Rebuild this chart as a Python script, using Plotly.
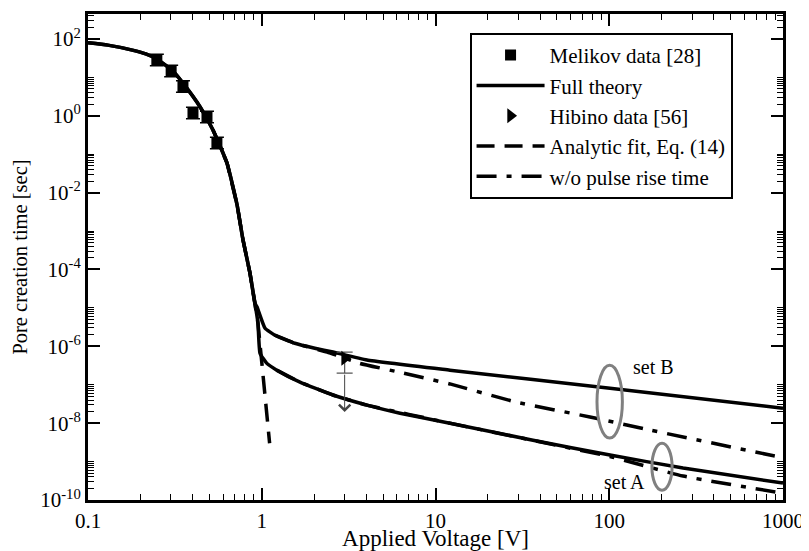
import math
import plotly.graph_objects as go

FONT = "Liberation Serif"

# ---- data (applied voltage [V], pore creation time [s]) ----
v_common = [0.10, 0.13, 0.18, 0.215, 0.249, 0.304, 0.352, 0.442, 0.524, 0.631, 0.721, 0.78, 0.855, 0.914]
t_common = [79.4, 69.2, 51.3, 40.7, 30.2, 15.5, 7.08, 1.70, 0.427, 0.0589, 4.79e-3, 5.89e-4, 8.13e-5, 1.33e-5]

v_setB = [0.94, 1.045, 1.19, 1.55, 2.02, 2.57, 4.03, 12.1, 101, 1000]
t_setB = [1.05e-5, 2.95e-6, 1.95e-6, 1.20e-6, 8.9e-7, 7.1e-7, 4.4e-7, 2.4e-7, 8.1e-8, 2.45e-8]

v_setA = [0.951, 0.977, 1.07, 1.22, 1.66, 2.57, 4.03, 6.25, 12.1, 36.4, 101, 266, 1000]
t_setA = [4.0e-6, 6.6e-7, 3.6e-7, 2.4e-7, 1.17e-7, 5.4e-8, 2.95e-8, 1.82e-8, 1.0e-8, 3.6e-9, 1.48e-9, 6.8e-10, 2.75e-10]

v_fit = [0.524, 0.631, 0.721, 0.78, 0.855, 0.914, 0.951, 1.0, 1.11]
t_fit = [0.427, 0.0589, 4.79e-3, 5.89e-4, 8.13e-5, 1.33e-5, 4.0e-6, 3.9e-7, 3.0e-9]

v_norise_B = [1.19, 1.55, 2.38, 3.67, 6.25, 12.1, 29.4, 77.4, 172, 841, 1000]
t_norise_B = [1.95e-6, 1.20e-6, 7.1e-7, 3.6e-7, 2.1e-7, 1.05e-7, 3.5e-8, 1.45e-8, 6.6e-9, 1.48e-9, 1.26e-9]

v_norise_A = [1.22, 1.66, 2.57, 4.03, 12.1, 36.4, 101, 266, 1000]
t_norise_A = [2.4e-7, 1.17e-7, 5.4e-8, 2.95e-8, 1.0e-8, 3.55e-9, 1.35e-9, 4.2e-10, 1.5e-10]

v_melikov = [0.249, 0.301, 0.352, 0.402, 0.484, 0.552]
t_melikov = [28.4, 14.7, 5.8, 1.18, 0.93, 0.196]
rel_err_up = [0.41, 0.41, 0.41, 0.41, 0.41, 0.41]
rel_err_dn = [0.29, 0.29, 0.29, 0.29, 0.29, 0.29]

v_hibino = [3.0]
t_hibino = [4.9e-7]
hibino_err_up = [2.2e-7]
hibino_err_dn = [2.9e-7]
hibino_arrow_to = 1.95e-8

x_tickvals = [0.1, 1, 10, 100, 1000]
x_ticktext = ["0.1", "1", "10", "100", "1000"]
y_exponents = [2, 0, -2, -4, -6, -8, -10]

# ---- figure ----
fig = go.Figure()

fig.add_trace(go.Scatter(
    x=v_melikov, y=t_melikov, mode="markers", name="Melikov data [28]",
    marker=dict(symbol="square", size=11, color="black"),
    error_y=dict(type="data", symmetric=False,
                 array=[t * r for t, r in zip(t_melikov, rel_err_up)],
                 arrayminus=[t * r for t, r in zip(t_melikov, rel_err_dn)],
                 color="black", thickness=1.5, width=7),
))

fig.add_trace(go.Scatter(
    x=v_common + v_setB, y=t_common + t_setB, mode="lines", name="Full theory",
    legendgroup="full", line=dict(color="black", width=3.5, shape="spline", smoothing=0.4),
))
fig.add_trace(go.Scatter(
    x=v_common + v_setA, y=t_common + t_setA, mode="lines", name="Full theory",
    legendgroup="full", showlegend=False,
    line=dict(color="black", width=3.5, shape="spline", smoothing=0.4),
))

fig.add_trace(go.Scatter(
    x=v_hibino, y=t_hibino, mode="markers", name="Hibino data [56]",
    marker=dict(symbol="triangle-right", size=13, color="black"),
    error_y=dict(type="data", symmetric=False, array=hibino_err_up, arrayminus=hibino_err_dn,
                 color="#555555", thickness=1.2, width=8),
))

fig.add_trace(go.Scatter(
    x=v_fit, y=t_fit, mode="lines", name="Analytic fit, Eq. (14)",
    line=dict(color="black", width=3.5, dash="18px,10px"),
))

fig.add_trace(go.Scatter(
    x=v_norise_B, y=t_norise_B, mode="lines", name="w/o pulse rise time",
    legendgroup="norise",
    line=dict(color="black", width=3.5, dash="20px,10px,5px,10px", shape="spline", smoothing=0.4),
))
fig.add_trace(go.Scatter(
    x=v_norise_A, y=t_norise_A, mode="lines", name="w/o pulse rise time",
    legendgroup="norise", showlegend=False,
    line=dict(color="black", width=3.5, dash="20px,10px,5px,10px", shape="spline", smoothing=0.4),
))

# downward arrow below the Hibino point (annotation coordinates are log10 on log axes)
fig.add_annotation(
    x=math.log10(v_hibino[0]), y=math.log10(hibino_arrow_to),
    ax=math.log10(v_hibino[0]), ay=math.log10(t_hibino[0] - hibino_err_dn[0]),
    xref="x", yref="y", axref="x", ayref="y", text="", showarrow=True,
    arrowhead=4, arrowsize=2.2, arrowwidth=1, arrowcolor="#444444",
)

# set labels and ellipses
fig.add_annotation(x=math.log10(180), y=math.log10(2.9e-7), xref="x", yref="y", text="set B",
                   showarrow=False, font=dict(family=FONT, size=20, color="black"))
fig.add_annotation(x=math.log10(123), y=math.log10(2.9e-10), xref="x", yref="y", text="set A",
                   showarrow=False, font=dict(family=FONT, size=20, color="black"))
fig.add_shape(type="circle", xref="x", yref="y", x0=85, x1=119, y0=4.1e-9, y1=3.2e-7,
              line=dict(color="#808080", width=3))
fig.add_shape(type="circle", xref="x", yref="y", x0=176, x1=230, y0=1.8e-10, y1=3.0e-9,
              line=dict(color="#808080", width=3))

x_minor = [k * 10.0 ** n for n in range(-1, 3) for k in range(2, 10)]
y_minor = [k * 10.0 ** (2 * m) for m in range(-5, 2) for k in range(2, 11)]
y_minor = [v for v in y_minor if v < 450]

axis_common = dict(
    showline=True, linecolor="black", linewidth=3, mirror="allticks",
    ticks="inside", ticklen=12, tickwidth=1.5, tickcolor="black",
    showgrid=False, zeroline=False, automargin=False,
    tickfont=dict(family=FONT, size=21, color="black"),
)

fig.update_xaxes(
    type="log", range=[-1, 3], tickvals=x_tickvals, ticktext=x_ticktext,
    minor=dict(tickvals=x_minor, ticks="inside", ticklen=6, tickwidth=1, tickcolor="black", showgrid=False),
    title=dict(text="Applied Voltage [V]", font=dict(family=FONT, size=23, color="black"), standoff=3),
    **axis_common,
)
fig.update_yaxes(
    type="log", range=[-10, 2.65],
    tickvals=[10.0 ** e for e in y_exponents],
    ticktext=[f"10<sup>{e}</sup>" for e in y_exponents],
    minor=dict(tickvals=y_minor, ticks="inside", ticklen=6, tickwidth=1, tickcolor="black", showgrid=False),
    title=dict(text="Pore creation time [sec]", font=dict(family=FONT, size=20.5, color="black"), standoff=8),
    **axis_common,
)

# the page adds an 8px body margin, so the figure is sized to fit inside 809x551
fig.update_layout(
    width=801, height=543,
    margin=dict(l=80, r=26, t=6, b=51),
    paper_bgcolor="white", plot_bgcolor="white",
    font=dict(family=FONT, color="black"),
    showlegend=True,
    legend=dict(x=0.549, y=0.961, xanchor="left", yanchor="top",
                bgcolor="white", bordercolor="black", borderwidth=2, tracegroupgap=0,
                font=dict(family=FONT, size=21, color="black"), itemwidth=68),
)

fig.write_html("out.html")
